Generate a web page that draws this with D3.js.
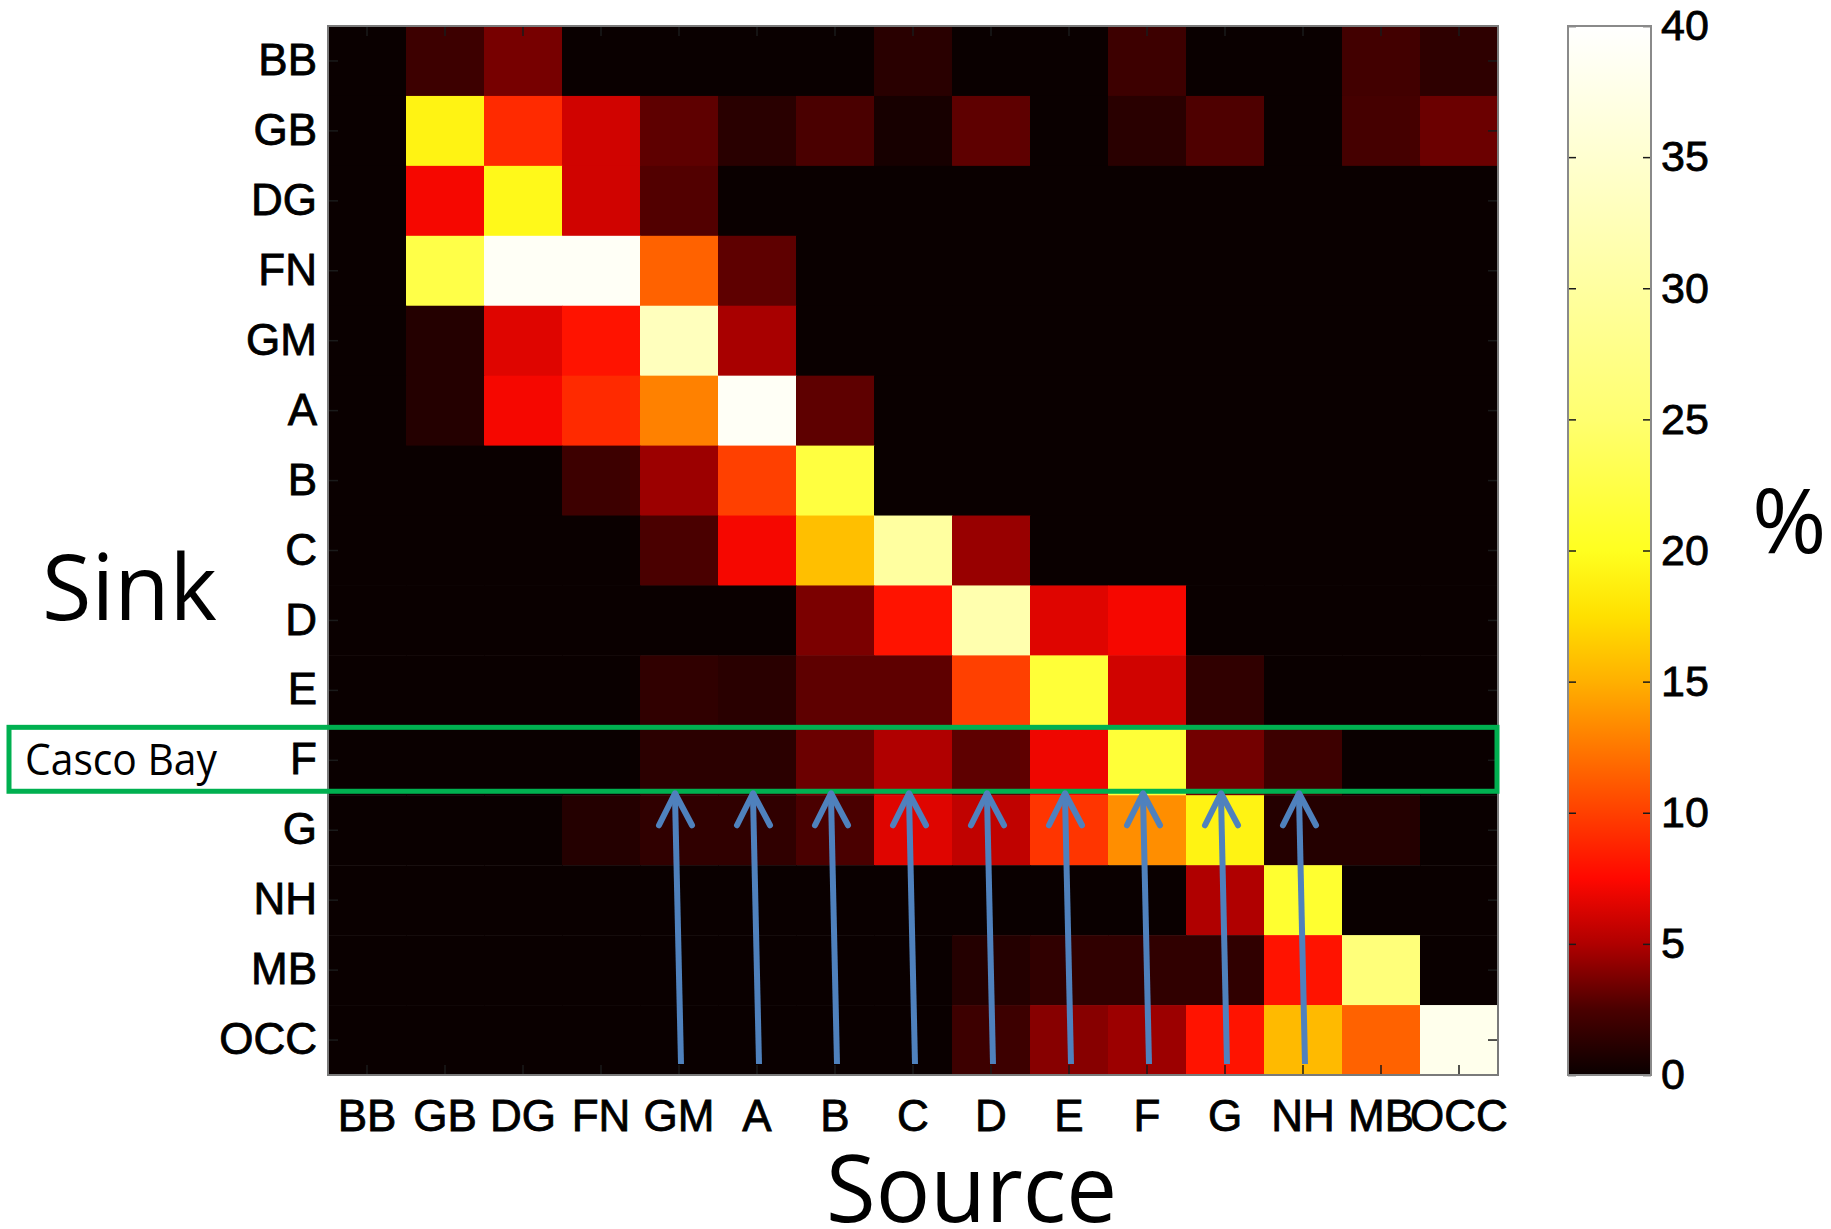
<!DOCTYPE html>
<html>
<head>
<meta charset="utf-8">
<script src="https://cdn.jsdelivr.net/npm/d3@7"></script>
<style>
  html, body { margin: 0; padding: 0; background: #fff; }
  svg { display: block; }
  .tick text { font-family: "Liberation Sans", Arial, sans-serif; fill: #000; stroke: #000; stroke-width: 0.8px; }
  .word { font-family: "Open Sans", "Noto Sans", sans-serif; fill: #000; }
</style>
</head>
<body>
<div id="chart"></div>
<script>
// row = sink, column = source (percent)
const sources = [`BB`, `GB`, `DG`, `FN`, `GM`, `A`, `B`, `C`, `D`, `E`, `F`, `G`, `NH`, `MB`, `OCC`];
const sinks = [`BB`, `GB`, `DG`, `FN`, `GM`, `A`, `B`, `C`, `D`, `E`, `F`, `G`, `NH`, `MB`, `OCC`];

const connectivity = [
  [0, 2, 3.6, 0, 0, 0, 0, 1.2, 0, 0, 2, 0, 0, 2.2, 1.4],
  [0, 19, 9, 6, 3, 1.2, 2.5, 0.5, 3, 0, 1.2, 2.6, 0, 2.3, 3.3],
  [0, 7.2, 19.5, 6, 2.7, 0, 0, 0, 0, 0, 0, 0, 0, 0, 0],
  [0, 22.5, 39, 39, 11.5, 3, 0, 0, 0, 0, 0, 0, 0, 0, 0],
  [0, 1, 6.5, 8, 33, 4.8, 0, 0, 0, 0, 0, 0, 0, 0, 0],
  [0, 1, 7.2, 9, 12.9, 39, 3, 0, 0, 0, 0, 0, 0, 0, 0],
  [0, 0, 0, 2, 4.5, 10, 22, 0, 0, 0, 0, 0, 0, 0, 0],
  [0, 0, 0, 0, 2.5, 7.2, 15.8, 30, 4.4, 0, 0, 0, 0, 0, 0],
  [0, 0, 0, 0, 0, 0, 3.7, 8, 31.5, 6.5, 7.2, 0, 0, 0, 0],
  [0, 0, 0, 0, 1.5, 1.2, 3, 3, 10, 21.5, 6, 1.5, 0, 0, 0],
  [0, 0, 0, 0, 1.3, 1.3, 3.3, 5, 3, 7, 21.5, 3.5, 2, 0, 0],
  [0, 0, 0, 1, 1.5, 1.5, 2.5, 6.5, 5.5, 9.5, 13.5, 19, 1, 1, 0],
  [0, 0, 0, 0, 0, 0, 0, 0, 0, 0, 0, 5, 21, 0, 0],
  [0, 0, 0, 0, 0, 0, 0, 0, 1, 1.5, 1.5, 1.5, 8, 26, 0],
  [0, 0, 0, 0, 0, 0, 0, 0, 2, 4, 4.5, 8, 15.5, 11.5, 38],
];

// colour map
const colorDomain = [0, 2.5, 5, 7.5, 10, 12.5, 15, 17.5, 20, 25, 30, 35, 40];
const colorRange = [`#0a0000`, `#4a0000`, `#b00000`, `#ff0800`, `#ff4000`, `#ff7800`, `#ffb000`,
  `#ffe000`, `#ffff20`, `#ffff70`, `#ffffa0`, `#ffffd0`, `#ffffff`];
const colorbarTicks = [0, 5, 10, 15, 20, 25, 30, 35, 40];

const arrowSources = [`GM`, `A`, `B`, `C`, `D`, `E`, `F`, `G`, `NH`];
const highlightSink = `F`;
const highlightLabel = `Casco Bay`;

class ConnectivityMatrix {
  constructor(el) {
    this.el = el;
    this.width = 1831;
    this.height = 1229;
    this.plot = {left: 328, right: 1498, top: 26, bottom: 1075};
    this.bar = {left: 1568, right: 1651};
    this.svg = d3.select(this.el)
      .append(`svg`)
        .attr(`width`, this.width)
        .attr(`height`, this.height);
  }

  setScales() {
    this.x = d3.scaleBand()
      .domain(sources)
      .range([this.plot.left, this.plot.right]);

    this.y = d3.scaleBand()
      .domain(sinks)
      .range([this.plot.top, this.plot.bottom]);

    this.color = d3.scaleLinear()
      .domain(colorDomain)
      .range(colorRange)
      .clamp(true);

    this.barY = d3.scaleLinear()
      .domain([0, 40])
      .range([this.plot.bottom, this.plot.top]);
  }

  drawCells() {
    const cells = connectivity.flatMap((row, i) => row.map((value, j) => ({
      sink: sinks[i],
      source: sources[j],
      value,
    })));

    this.svg.append(`g`)
      .attr(`class`, `cells`)
      .selectAll(`rect`)
      .data(cells)
      .enter().append(`rect`)
        .attr(`x`, d => this.x(d.source))
        .attr(`y`, d => this.y(d.sink))
        .attr(`width`, this.x.bandwidth() + 0.5)
        .attr(`height`, this.y.bandwidth() + 0.5)
        .attr(`fill`, d => this.color(d.value));
  }

  drawAxes() {
    const {left, right, top, bottom} = this.plot;

    this.svg.append(`g`)
      .attr(`class`, `x-axis`)
      .attr(`transform`, `translate(0,${bottom})`)
      .call(d3.axisBottom(this.x).tickSize(-10).tickPadding(25));

    this.svg.append(`g`)
      .attr(`class`, `y-axis`)
      .attr(`transform`, `translate(${left},0)`)
      .call(d3.axisLeft(this.y).tickSize(-10).tickPadding(11));

    // mirrored ticks on top / right
    this.svg.append(`g`)
      .attr(`transform`, `translate(0,${top})`)
      .call(d3.axisTop(this.x).tickSize(-10).tickFormat(``));

    this.svg.append(`g`)
      .attr(`transform`, `translate(${right},0)`)
      .call(d3.axisRight(this.y).tickSize(-10).tickFormat(``));

    this.svg.selectAll(`.domain`).remove();
    this.svg.selectAll(`.tick line`)
      .attr(`stroke`, `#1a1a1a`)
      .attr(`stroke-width`, 1.5);
    this.svg.selectAll(`.x-axis text, .y-axis text`)
      .attr(`font-size`, 44);

    this.svg.append(`rect`)
      .attr(`x`, left)
      .attr(`y`, top)
      .attr(`width`, right - left)
      .attr(`height`, bottom - top)
      .attr(`fill`, `none`)
      .attr(`stroke`, `#7a7a7a`)
      .attr(`stroke-width`, 2);
  }

  drawColorbar() {
    const {left, right} = this.bar;
    const gradient = this.svg.append(`defs`)
      .append(`linearGradient`)
        .attr(`id`, `hot-gradient`)
        .attr(`x1`, 0).attr(`y1`, 1)
        .attr(`x2`, 0).attr(`y2`, 0);

    gradient.selectAll(`stop`)
      .data(colorDomain)
      .enter().append(`stop`)
        .attr(`offset`, d => d / 40)
        .attr(`stop-color`, d => this.color(d));

    this.svg.append(`rect`)
      .attr(`x`, left)
      .attr(`y`, this.barY(40))
      .attr(`width`, right - left)
      .attr(`height`, this.barY(0) - this.barY(40))
      .attr(`fill`, `url(#hot-gradient)`);

    const barAxis = this.svg.append(`g`)
      .attr(`class`, `colorbar-axis`)
      .attr(`transform`, `translate(${right},0)`)
      .call(d3.axisRight(this.barY).tickValues(colorbarTicks).tickSize(-8).tickPadding(10));

    barAxis.selectAll(`text`).attr(`font-size`, 43);

    this.svg.append(`g`)
      .attr(`transform`, `translate(${left},0)`)
      .call(d3.axisLeft(this.barY).tickValues(colorbarTicks).tickSize(-8).tickFormat(``));

    this.svg.selectAll(`.domain`).remove();
    this.svg.selectAll(`.tick line`)
      .attr(`stroke`, `#1a1a1a`)
      .attr(`stroke-width`, 1.5);

    this.svg.append(`rect`)
      .attr(`x`, left)
      .attr(`y`, this.barY(40))
      .attr(`width`, right - left)
      .attr(`height`, this.barY(0) - this.barY(40))
      .attr(`fill`, `none`)
      .attr(`stroke`, `#8a8a8a`)
      .attr(`stroke-width`, 2);
  }

  drawAnnotations() {
    const rowTop = this.y(highlightSink);

    // Casco Bay box
    this.svg.append(`rect`)
      .attr(`x`, 9)
      .attr(`y`, rowTop + 2)
      .attr(`width`, this.plot.right - 10)
      .attr(`height`, this.y.bandwidth() - 6)
      .attr(`fill`, `none`)
      .attr(`stroke`, `#00b050`)
      .attr(`stroke-width`, 5);

    this.svg.append(`text`)
      .attr(`class`, `word`)
      .attr(`x`, 25)
      .attr(`y`, rowTop + 50)
      .attr(`font-size`, 43)
      .attr(`textLength`, 192)
      .attr(`lengthAdjust`, `spacingAndGlyphs`)
      .text(highlightLabel);

    // arrows from each source column up to the Casco Bay row
    const tipY = rowTop + this.y.bandwidth() - 2;
    const tailY = this.plot.bottom - 11;
    const arrows = this.svg.append(`g`)
      .attr(`class`, `arrows`)
      .attr(`stroke`, `#4f81bd`)
      .attr(`stroke-width`, 6)
      .attr(`fill`, `none`);

    arrowSources.forEach(s => {
      const cx = this.x(s) + this.x.bandwidth() / 2;
      const hx = cx - 4;
      arrows.append(`line`)
        .attr(`x1`, cx + 2).attr(`y1`, tailY)
        .attr(`x2`, hx).attr(`y2`, tipY + 3);
      arrows.append(`polyline`)
        .attr(`points`, `${hx - 16},${tipY + 32} ${hx},${tipY} ${hx + 17},${tipY + 32}`)
        .attr(`stroke-linecap`, `round`)
        .attr(`stroke-linejoin`, `round`);
    });

    // axis titles
    this.svg.append(`text`)
      .attr(`class`, `word`)
      .attr(`x`, 42)
      .attr(`y`, 620)
      .attr(`font-size`, 92)
      .attr(`textLength`, 175)
      .attr(`lengthAdjust`, `spacingAndGlyphs`)
      .text(`Sink`);

    this.svg.append(`text`)
      .attr(`class`, `word`)
      .attr(`x`, 826)
      .attr(`y`, 1222)
      .attr(`font-size`, 94)
      .attr(`textLength`, 291)
      .attr(`lengthAdjust`, `spacingAndGlyphs`)
      .text(`Source`);

    this.svg.append(`text`)
      .attr(`class`, `word`)
      .attr(`x`, 1752)
      .attr(`y`, 553)
      .attr(`font-size`, 90)
      .text(`%`);
  }

  render() {
    this.setScales();
    this.drawCells();
    this.drawAxes();
    this.drawColorbar();
    this.drawAnnotations();
  }
}

new ConnectivityMatrix(`#chart`).render();
</script>
</body>
</html>
